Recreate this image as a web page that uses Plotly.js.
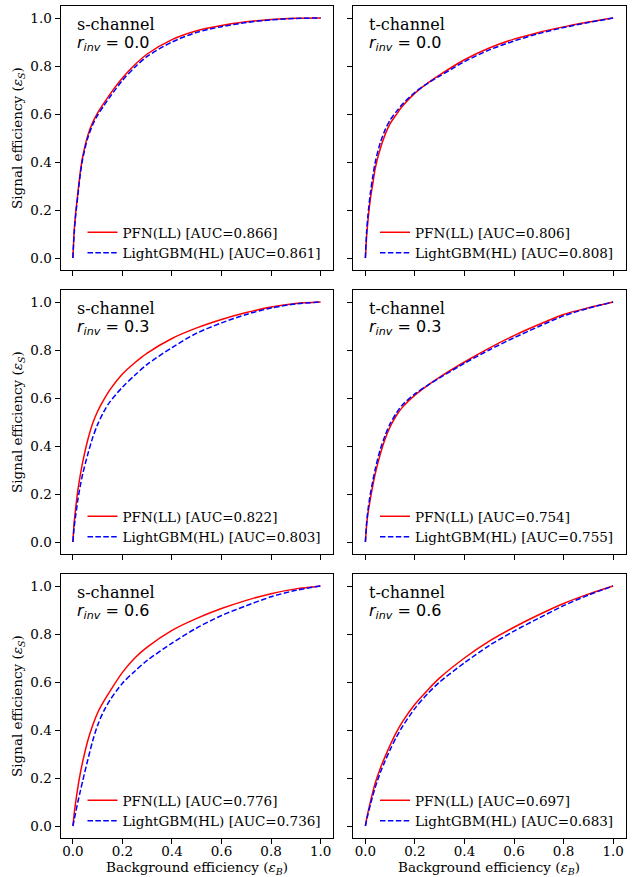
<!DOCTYPE html>
<html>
<head>
<meta charset="utf-8">
<script src="https://cdn.plot.ly/plotly-3.0.1.min.js"></script>
<style>html,body{margin:0;padding:0;background:#fff;}</style>
</head>
<body>
<div id="chart" style="width:636px;height:877px;"></div>
<script>
// Background efficiency grid (read points)
const fpr = [0, 0.005, 0.01, 0.02, 0.03, 0.04, 0.06, 0.08, 0.1, 0.125, 0.15, 0.2, 0.25, 0.3, 0.4, 0.5, 0.6, 0.7, 0.8, 0.9, 1.0];

// Signal efficiency
const pfn_s00  = [0, 0.11, 0.175, 0.27, 0.36, 0.425, 0.51, 0.565, 0.605, 0.645, 0.683, 0.75, 0.805, 0.85, 0.91, 0.947, 0.969, 0.984, 0.994, 0.999, 1.0];
const lgbm_s00 = [0, 0.10, 0.165, 0.26, 0.35, 0.415, 0.50, 0.555, 0.595, 0.635, 0.672, 0.74, 0.795, 0.84, 0.90, 0.94, 0.964, 0.981, 0.992, 0.998, 1.0];
const pfn_t00  = [0, 0.09, 0.15, 0.245, 0.31, 0.375, 0.455, 0.515, 0.56, 0.598, 0.633, 0.687, 0.728, 0.763, 0.826, 0.875, 0.912, 0.94, 0.963, 0.983, 1.0];
const lgbm_t00 = [0, 0.11, 0.175, 0.27, 0.34, 0.40, 0.48, 0.535, 0.575, 0.61, 0.642, 0.69, 0.727, 0.758, 0.818, 0.867, 0.904, 0.935, 0.96, 0.981, 1.0];
const pfn_s03  = [0, 0.08, 0.13, 0.215, 0.28, 0.335, 0.425, 0.495, 0.545, 0.593, 0.635, 0.70, 0.747, 0.787, 0.848, 0.892, 0.927, 0.956, 0.979, 0.994, 1.0];
const lgbm_s03 = [0, 0.06, 0.10, 0.175, 0.235, 0.285, 0.365, 0.435, 0.49, 0.543, 0.585, 0.645, 0.695, 0.74, 0.81, 0.87, 0.913, 0.948, 0.975, 0.992, 1.0];
const pfn_t03  = [0, 0.07, 0.115, 0.18, 0.235, 0.285, 0.365, 0.43, 0.48, 0.527, 0.562, 0.612, 0.652, 0.687, 0.75, 0.808, 0.86, 0.906, 0.948, 0.976, 1.0];
const lgbm_t03 = [0, 0.08, 0.13, 0.20, 0.255, 0.305, 0.385, 0.445, 0.493, 0.537, 0.572, 0.617, 0.652, 0.684, 0.745, 0.80, 0.851, 0.898, 0.942, 0.974, 1.0];
const pfn_s06  = [0, 0.05, 0.09, 0.16, 0.22, 0.27, 0.355, 0.42, 0.472, 0.52, 0.562, 0.64, 0.70, 0.745, 0.815, 0.865, 0.906, 0.94, 0.968, 0.988, 1.0];
const lgbm_s06 = [0, 0.025, 0.05, 0.10, 0.145, 0.19, 0.275, 0.355, 0.42, 0.48, 0.525, 0.595, 0.645, 0.69, 0.762, 0.825, 0.877, 0.918, 0.955, 0.982, 1.0];
const pfn_t06  = [0, 0.03, 0.055, 0.10, 0.142, 0.18, 0.24, 0.29, 0.337, 0.39, 0.435, 0.507, 0.565, 0.617, 0.70, 0.77, 0.828, 0.88, 0.927, 0.966, 1.0];
const lgbm_t06 = [0, 0.025, 0.047, 0.088, 0.126, 0.162, 0.222, 0.272, 0.318, 0.37, 0.415, 0.49, 0.55, 0.60, 0.68, 0.752, 0.812, 0.866, 0.918, 0.962, 1.0];

const channels = ["s-channel", "t-channel", "s-channel", "t-channel", "s-channel", "t-channel"];
const rinv = ["0.0", "0.0", "0.3", "0.3", "0.6", "0.6"];
const pfnAUC  = ["0.866", "0.806", "0.822", "0.754", "0.776", "0.697"];
const lgbmAUC = ["0.861", "0.808", "0.803", "0.755", "0.736", "0.683"];
const pfnSeries  = [pfn_s00, pfn_t00, pfn_s03, pfn_t03, pfn_s06, pfn_t06];
const lgbmSeries = [lgbm_s00, lgbm_t00, lgbm_s03, lgbm_t03, lgbm_s06, lgbm_t06];
const tickVals = [0, 0.2, 0.4, 0.6, 0.8, 1.0];
const tickText = ["0.0", "0.2", "0.4", "0.6", "0.8", "1.0"];
const xTitle = "Background efficiency (<i>ε</i><sub><i>B</i></sub>)";
const yTitle = "Signal efficiency (<i>ε</i><sub><i>S</i></sub>)";

const W = 636, H = 877;
const colX = [[60.5, 333], [353, 625.5]];
const rowY = [[6, 270], [290, 554], [574, 838]];
const serif = "DejaVu Serif";
const sans = "DejaVu Sans";

const traces = [];
const layout = {
  width: W, height: H,
  margin: {l: 0, r: 0, t: 0, b: 0},
  paper_bgcolor: "#ffffff", plot_bgcolor: "#ffffff",
  showlegend: true,
  annotations: []
};

for (let i = 0; i < 6; i++) {
  const r = Math.floor(i / 2), c = i % 2;
  const sfx = i === 0 ? "" : String(i + 1);
  const lg = "legend" + sfx;
  traces.push({
    x: fpr, y: pfnSeries[i], type: "scatter", mode: "lines",
    xaxis: "x" + sfx, yaxis: "y" + sfx, legend: lg,
    name: "PFN(LL) [AUC=" + pfnAUC[i] + "]",
    line: {color: "#ff0000", width: 1.5, shape: "spline", smoothing: 0.8}
  });
  traces.push({
    x: fpr, y: lgbmSeries[i], type: "scatter", mode: "lines",
    xaxis: "x" + sfx, yaxis: "y" + sfx, legend: lg,
    name: "LightGBM(HL) [AUC=" + lgbmAUC[i] + "]",
    line: {color: "#0000ff", width: 1.5, dash: "5.5px,2.4px", shape: "spline", smoothing: 0.8}
  });
  const common = {
    range: [-0.05, 1.05], tickvals: tickVals, ticktext: tickText,
    ticks: "outside", ticklen: 5, tickwidth: 1, tickcolor: "#000",
    showline: true, linecolor: "#000", linewidth: 1, mirror: true,
    showgrid: false, zeroline: false, automargin: false,
    tickfont: {family: serif, size: 13.5, color: "#000"}
  };
  layout["xaxis" + sfx] = Object.assign({}, common, {
    domain: [colX[c][0] / W, colX[c][1] / W],
    anchor: "y" + sfx,
    showticklabels: r === 2,
    ticklabelstandoff: -4
  });
  layout["yaxis" + sfx] = Object.assign({}, common, {
    domain: [1 - rowY[r][1] / H, 1 - rowY[r][0] / H],
    anchor: "x" + sfx,
    showticklabels: c === 0
  });
  layout[lg] = {
    x: (colX[c][0] + 22) / W, xanchor: "left",
    y: 1 - (rowY[r][0] + 211) / H, yanchor: "top",
    bgcolor: "rgba(255,255,255,0)", borderwidth: 0,
    font: {family: serif, size: 13.5, color: "#000"},
    tracegroupgap: 0
  };
  layout.annotations.push({
    xref: "paper", yref: "paper",
    x: (colX[c][0] + 15.5) / W, y: 1 - (rowY[r][0] + 29) / H,
    xanchor: "left", yanchor: "bottom", showarrow: false, borderpad: 0,
    text: channels[i], font: {family: serif, size: 16, color: "#000"}
  });
  layout.annotations.push({
    xref: "paper", yref: "paper",
    x: (colX[c][0] + 15.5) / W, y: 1 - (rowY[r][0] + 26) / H,
    xanchor: "left", yanchor: "top", showarrow: false, borderpad: 0,
    text: "<i>r</i><sub><i>inv</i></sub> = " + rinv[i], font: {family: sans, size: 16, color: "#000"}
  });
  if (c === 0) {
    layout.annotations.push({
      xref: "paper", yref: "paper",
      x: 18 / W, y: 1 - ((rowY[r][0] + rowY[r][1]) / 2) / H,
      xanchor: "center", yanchor: "middle", showarrow: false, textangle: -90,
      text: yTitle, font: {family: serif, size: 13.5, color: "#000"}
    });
  }
  if (r === 2) {
    layout.annotations.push({
      xref: "paper", yref: "paper",
      x: ((colX[c][0] + colX[c][1]) / 2) / W, y: 1 - 867.5 / H,
      xanchor: "center", yanchor: "middle", showarrow: false, borderpad: 0,
      text: xTitle, font: {family: serif, size: 13.5, color: "#000"}
    });
  }
}

Plotly.newPlot("chart", traces, layout, {displayModeBar: false, staticPlot: true});
</script>
</body>
</html>
